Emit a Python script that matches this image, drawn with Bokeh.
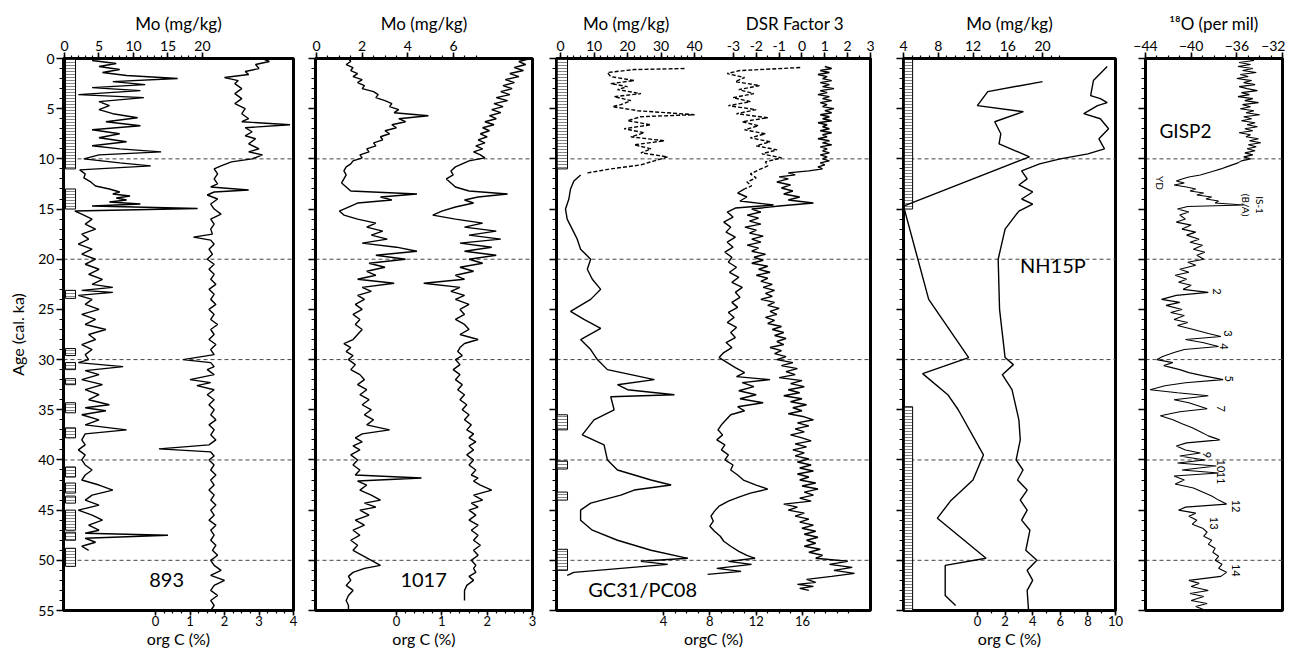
from bokeh.plotting import figure
from bokeh.models import Range1d, LinearAxis, FixedTicker, Span, ColumnDataSource
from bokeh.layouts import row
from bokeh.embed import file_html
from bokeh.resources import INLINE
from bokeh.core.properties import value
import math

FONT = "Lato"
FH = 552
TOP = 58
BOT = 40

# ---------------- DATA ----------------
# Core 893 (Santa Barbara)
age_893_mo = [0.2,0.5,0.8,1.1,1.4,1.7,2.0,2.3,2.6,2.9,3.2,3.6,3.9,4.3,4.7,5.1,5.5,5.9,6.3,6.7,7.1,7.5,7.9,8.3,8.7,9.0,9.3,9.6,10.0,10.4,10.7,11.1,11.5,11.9,12.3,12.7,13.0,13.3,13.5,13.7,13.9,14.1,14.3,14.5,14.7,14.95,15.2,15.5,16.0,16.5,17.0,17.5,18.0,18.5,19.0,19.5,20.0,20.5,21.0,21.5,22.0,22.5,22.8,23.1,23.3,23.6,24.0,24.5,25.0,25.5,26.0,26.5,27.0,27.5,28.0,28.5,29.0,29.5,30.0,30.3,30.7,31.1,31.5,32.0,32.5,33.0,33.5,34.0,34.5,34.8,35.1,35.5,36.0,36.5,37.0,37.4,38.0,38.5,39.0,39.5,40.0,40.5,41.0,41.5,42.0,42.5,43.0,43.5,44.0,44.5,45.0,45.5,46.0,46.5,47.0,47.3,47.5,47.8,48.2,48.6,49.0]
mo_893 = [4,7.5,5,8,5.5,9,16.4,7,11.7,4,11,2,11.5,5,6.5,5,7,10.6,6,11,4,8,5,9,4,8,14,5,2.8,8,12.5,2.2,3.0,2.8,3.8,4.5,6.5,8.0,7.0,9.5,7.5,9.0,6.5,11,4.0,19.3,1.5,2.5,4,3,4.5,2.5,3.5,2,4,2.5,4.5,3,5,3.5,5.5,4,7,2.5,7,2,4,3,5,2.5,4.5,3,6,3.5,4.5,2.5,4,3,3.5,2,8.5,3,5,2.5,5.5,3,5,3.5,6.5,3,6,2.5,5,3,9,3,2.5,3,2,3,2.5,3,4,3,2.5,5,7,4,3,5,2,4,5.5,3.5,5,3,15,3,4.5,2.5,3.5]

age_893_c = [0,0.3,0.6,1.0,1.3,1.6,1.9,2.2,2.5,3.0,3.5,4.0,4.5,5.0,5.5,6.0,6.3,6.6,6.9,7.3,7.7,8.0,8.5,9.0,9.3,9.6,10.0,10.3,10.7,11.0,11.5,12.0,12.5,12.8,13.1,13.3,13.6,14.0,14.5,15.0,15.5,16.0,16.5,17.0,17.5,17.8,18.1,18.5,19.0,19.5,20.0,20.5,21.0,21.5,22.0,22.5,23.0,23.5,24.0,24.5,25.0,25.5,26.0,26.5,27.0,27.5,28.0,28.5,29.0,29.5,30.0,30.3,30.7,31.0,31.5,32.0,32.3,32.6,33.0,33.5,34.0,34.5,35.0,35.5,36.0,36.5,37.0,37.5,38.0,38.5,38.9,39.2,39.6,40.0,40.5,41.0,41.5,42.0,42.5,43.0,43.5,44.0,44.5,45.0,45.5,46.0,46.5,47.0,47.5,48.0,48.5,49.0,49.5,50.0,50.5,51.0,51.5,52.0,52.5,53.0,53.5,54.0,54.5,55.0]
c_893 = [3.1,3.3,2.9,3.0,2.6,2.7,2.0,2.4,2.3,2.5,2.3,2.5,2.3,2.6,2.5,2.7,2.5,3.9,2.6,2.8,2.6,2.9,2.7,3.0,2.7,3.1,2.8,2.2,1.9,1.7,1.8,1.7,1.8,1.6,2.7,1.7,1.5,1.8,1.6,1.7,1.9,1.6,1.7,1.6,1.65,1.1,1.6,1.7,1.55,1.65,1.5,1.7,1.55,1.7,1.6,1.75,1.55,1.7,1.6,1.75,1.55,1.7,1.6,1.8,1.6,1.7,1.55,1.75,1.6,1.7,0.8,1.6,1.7,1.5,1.7,1.0,1.6,1.2,1.7,1.5,1.7,1.55,1.7,1.6,1.75,1.55,1.7,1.6,1.75,1.55,0.1,1.6,1.7,1.55,1.7,1.6,1.75,1.6,1.7,1.55,1.7,1.6,1.75,1.6,1.7,1.55,1.75,1.6,1.7,1.6,1.75,1.65,1.8,1.6,1.7,1.9,1.6,2.0,1.7,1.6,1.8,1.6,1.7,1.6]

lith_893_top = [0,13.0,23.1,28.9,30.3,31.9,34.3,36.8,40.7,42.3,43.6,45.0,47.2,48.8]
lith_893_bot = [11.0,15.0,23.9,29.6,31.0,32.5,35.3,37.8,41.7,43.3,44.3,47.0,48.0,50.6]

# Core 1017
age_1017 = [0.0,0.3,0.6,0.9,1.2,1.5,1.8,2.1,2.4,2.7,3.0,3.3,3.6,3.9,4.2,4.5,4.8,5.1,5.4,5.7,6.0,6.3,6.6,6.9,7.2,7.5,7.8,8.1,8.4,8.7,9.0,9.3,9.6,9.9,10.2,10.5,10.8,11.2,11.6,12.0,12.4,12.8,13.2,13.5,13.8,14.1,14.4,14.8,15.2,15.6,16.0,16.4,16.8,17.2,17.6,18.0,18.4,18.8,19.2,19.6,20.0,20.4,20.8,21.2,21.6,22.0,22.4,22.8,23.2,23.6,24.0,24.5,25.0,25.5,26.0,26.5,27.0,27.5,28.0,28.4,28.8,29.2,29.6,30.0,30.5,31.0,31.5,32.0,32.5,33.0,33.5,34.0,34.5,35.0,35.5,36.0,36.5,37.0,37.4,37.8,38.2,38.6,39.0,39.5,40.0,40.5,41.0,41.5,41.8,42.1,42.5,43.0,43.5,44.0,44.3,44.7,45.0,45.5,46.0,46.5,47.0,47.5,48.0,48.5,49.0,49.5,50.0,50.5,50.8,51.2,51.6,52.0,52.5,53.0,53.5,54.0,54.5,55.0]
mo_1017 = [1.4,1.5,1.3,1.6,1.5,1.8,1.6,2.0,1.8,2.1,2.0,2.5,2.7,2.6,3.0,3.3,3.2,3.6,3.4,4.9,3.6,3.9,3.3,3.5,3.0,3.2,2.8,2.9,2.5,2.6,2.2,2.3,1.9,2.0,1.6,1.5,1.3,1.2,1.3,1.2,1.1,1.3,1.5,4.4,2.8,3.3,1.8,1.4,1.0,1.2,1.8,2.6,2.2,2.9,2.4,3.1,2.0,3.5,4.4,2.6,3.9,2.3,3.0,2.2,2.6,1.8,3.4,2.0,2.4,1.8,2.1,1.7,2.0,1.6,1.9,1.7,2.0,1.8,1.6,1.2,1.5,1.3,1.6,1.4,1.7,1.5,1.9,2.1,1.8,2.2,1.9,2.3,2.0,2.4,2.1,2.5,2.2,3.2,2.0,1.7,2.0,1.6,1.9,1.5,1.8,1.6,1.9,1.7,4.6,1.8,2.2,1.9,2.4,2.8,2.1,2.6,1.9,2.3,1.7,2.1,1.6,1.9,1.5,1.8,1.6,2.0,2.4,2.8,2.1,1.6,1.4,1.5,1.3,1.6,1.4,1.3,1.4,1.4]
c_1017 = [2.95,2.7,2.85,2.6,2.8,2.5,2.7,2.4,2.6,2.35,2.55,2.3,2.5,2.2,2.45,2.15,2.35,2.1,2.3,2.05,2.2,1.95,2.15,1.9,2.05,1.85,2.0,1.8,1.95,1.75,1.9,1.7,1.85,1.95,1.6,1.45,1.3,1.2,1.25,1.1,1.2,1.3,1.6,2.45,1.8,1.5,1.7,1.3,1.0,0.8,1.3,1.9,1.5,2.2,1.6,2.3,1.4,2.1,1.5,2.2,1.6,1.9,1.4,1.7,1.3,1.5,0.6,1.4,1.2,1.5,1.3,1.6,1.4,1.5,1.3,1.5,1.6,1.4,1.8,1.5,1.4,1.35,1.45,1.3,1.4,1.25,1.4,1.3,1.45,1.35,1.5,1.4,1.55,1.45,1.6,1.5,1.65,1.55,1.7,1.6,1.75,1.6,1.7,1.55,1.7,1.6,1.75,1.65,1.8,1.7,1.85,2.1,1.7,1.9,1.65,1.8,1.6,1.75,1.6,1.8,1.65,1.8,1.7,1.85,1.7,1.8,1.65,1.75,1.7,1.75,1.6,1.7,1.55,1.5,1.5,1.5]

# GC31/PC08
age_gc31_mo = [1.0,1.1,1.4,1.8,2.2,2.5,2.8,3.1,3.5,3.8,4.2,4.6,4.8,5.2,5.6,5.8,6.2,6.6,7.0,7.4,7.8,8.2,8.6,9.0,9.4,9.8,10.2,10.6,11.0,11.4]
mo_gc31 = [37,22,14,15,22,15,20,17,24,16,21,18,15.5,23,40,24,20,27,19,25,21,31,22,27,24,32,28,24,15,8]
age_pc08_mo = [11.6,12.2,13.0,14.0,15.0,16.0,17.0,18.0,19.0,20.0,21.0,22.0,23.0,24.0,25.2,26.0,26.9,28.0,29.0,30.0,31.0,32.0,32.5,33.0,33.5,33.7,35.0,36.0,37.5,38.5,40.0,41.0,42.0,42.5,43.0,43.5,44.3,45.0,46.0,47.0,48.0,49.0,49.8,50.1,50.4,51.2,51.5]
mo_pc08 = [6,4,3,2.5,1.5,2,3.5,5,6,9,8,9.5,12,9,3,7,12,6,9,11,14,28,17,20,34,15,16,10,6.5,13,14,17,27,33,22,18,9,6,6,9.5,17,27,38,24,32,4,2]

age_gc31_c = [0.9,1.2,1.5,1.9,2.3,2.7,3.1,3.5,3.9,4.3,4.7,5.1,5.5,5.9,6.3,6.7,7.1,7.5,7.9,8.3,8.7,9.1,9.5,9.9,10.3,10.7,11.1,11.5,11.9,12.3,12.7,13.0]
c_gc31 = [15.8,10.6,9.5,11.0,10.2,12.3,10.5,11.8,10.0,11.5,9.6,12.0,10.3,13.0,10.8,12.2,11.0,12.8,11.5,13.2,12.0,13.8,12.5,14.2,12.8,13.0,12.2,11.5,12.0,11.2,11.6,11.0]
age_pc08_c = [13.0,13.4,13.8,14.2,14.6,14.9,15.3,15.8,16.3,16.8,17.3,17.8,18.3,18.8,19.3,19.8,20.3,20.8,21.3,21.8,22.3,22.8,23.3,23.8,24.3,24.8,25.3,25.8,26.3,26.8,27.3,27.8,28.3,28.8,29.3,29.8,30.3,30.8,31.3,31.7,32.0,32.3,32.7,33.1,33.5,33.9,34.3,34.7,35.1,35.5,36.0,36.5,37.0,37.5,38.0,38.5,39.0,39.5,40.0,40.5,41.0,41.5,42.0,42.5,42.9,43.3,43.7,44.1,44.6,45.1,45.6,46.1,46.6,47.1,47.6,48.1,48.6,49.1,49.5,49.8,50.1,50.4,50.8,51.1,51.4]
c_pc08 = [11.0,10.4,11.2,10.6,13.5,10.2,9.5,10.0,9.2,9.8,9.4,10.2,9.5,10.0,9.3,9.9,9.6,10.3,9.7,10.5,9.9,10.8,10.2,10.6,9.9,10.4,9.6,10.1,9.5,10.3,9.8,10.2,9.4,9.9,9.2,8.8,9.5,10.2,11.0,10.3,13.2,10.8,11.8,10.5,12.0,10.6,12.6,10.4,11.0,9.8,9.4,9.0,8.7,9.1,8.6,9.3,9.0,9.6,9.3,10.0,9.8,10.4,10.9,12.0,13.0,11.5,10.5,9.6,8.8,8.4,8.1,8.3,8.0,8.4,8.9,9.2,9.8,10.5,11.2,11.9,9.6,11.6,8.6,10.7,7.8]

age_dsr = [0.8,1.0,1.2,1.4,1.6,1.8,2.0,2.2,2.4,2.6,
           2.8,3.0,3.2,3.4,3.6,3.8,4.0,4.2,4.4,4.6,
           4.8,5.0,5.2,5.4,5.6,5.8,6.0,6.2,6.4,6.6,
           6.8,7.0,7.2,7.4,7.6,7.8,8.0,8.2,8.4,8.6,
           8.8,9.0,9.2,9.4,9.6,9.8,10.0,10.2,10.4,10.6,
           10.8,11.0,11.2,11.4,11.6,11.8,12.0,12.3,12.6,12.9,
           13.2,13.5,13.8,14.1,14.4,14.7,15.0,15.3,15.6,15.9,
           16.2,16.5,16.8,17.1,17.4,17.7,18.0,18.3,18.6,18.9,
           19.2,19.5,19.8,20.1,20.4,20.7,21.0,21.3,21.6,21.9,
           22.2,22.5,22.8,23.1,23.4,23.7,24.0,24.3,24.6,24.9,
           25.2,25.5,25.8,26.1,26.4,26.7,27.0,27.3,27.6,27.9,
           28.2,28.5,28.8,29.1,29.4,29.7,30.0,30.3,30.6,30.9,
           31.2,31.5,31.8,32.1,32.4,32.7,33.0,33.3,33.6,33.9,
           34.2,34.5,34.8,35.1,35.4,35.7,36.0,36.3,36.6,36.9,
           37.2,37.5,37.8,38.1,38.4,38.7,39.0,39.3,39.6,39.9,
           40.2,40.5,40.8,41.1,41.4,41.7,42.0,42.3,42.6,42.9,
           43.2,43.5,43.8,44.1,44.4,44.7,45.0,45.3,45.6,45.9,
           46.2,46.5,46.8,47.1,47.4,47.7,48.0,48.3,48.6,48.9,
           49.2,49.5,49.8,50.1,50.4,50.7,51.0,51.3,51.6,51.9,
           52.2,52.4,52.6,52.8,53.0]
dsr = [1.0,1.3,0.8,1.2,0.7,1.1,0.9,1.3,0.8,1.2,
       0.9,1.4,0.8,1.1,0.7,1.2,0.9,1.3,0.8,1.1,
       0.9,1.4,1.0,1.3,0.8,1.2,0.9,1.3,0.7,1.1,
       0.9,1.2,0.8,1.3,0.9,1.1,0.7,1.2,0.9,1.3,
       0.8,1.1,0.9,1.2,0.8,1.1,0.9,1.2,0.8,1.0,
       0.7,0.9,0.3,-0.6,-0.3,-1.0,-0.6,-1.1,-0.5,-0.9,
       -0.4,-0.8,-0.1,-0.6,0.5,-1.0,-2.2,-1.8,-2.4,-1.9,
       -2.3,-1.8,-2.5,-2.0,-2.3,-1.7,-2.2,-1.8,-2.4,-1.9,
       -2.2,-1.6,-2.1,-1.7,-2.2,-1.5,-1.9,-1.4,-2.0,-1.5,
       -1.8,-1.3,-1.7,-1.2,-1.6,-1.3,-1.8,-1.2,-1.5,-1.0,
       -1.4,-1.1,-1.6,-1.2,-1.5,-0.9,-1.3,-0.8,-1.2,-0.7,
       -1.1,-0.8,-1.4,-0.9,-1.2,-0.7,-1.1,-0.4,-0.9,-0.2,
       -0.7,-0.3,-1.0,0.0,-0.5,0.1,-0.6,-0.1,-0.8,0.0,
       -0.5,0.2,-0.4,0.0,-0.6,0.1,0.5,-0.2,0.3,-0.3,
       0.1,-0.5,0.0,0.4,-0.3,0.2,-0.4,0.1,-0.3,0.3,
       -0.2,0.4,-0.1,0.5,-0.2,0.3,-0.1,0.6,0.0,0.7,
       0.1,0.5,-0.1,0.4,-0.8,-0.2,-0.6,0.1,-0.3,0.3,
       -0.1,0.5,0.0,0.6,0.1,0.7,0.2,0.6,0.1,0.8,
       0.3,0.9,0.6,2.0,1.2,2.2,1.4,2.3,1.3,0.2,
       0.6,-0.2,0.5,-0.1,0.3]

lith_gc_top = [0,35.5,40.1,43.2,48.9]
lith_gc_bot = [11.0,37.0,40.9,44.0,51.0]

# NH15P
age_nh_mo = [2.3,3.3,4.7,5.3,6.3,7.5,8.5,9.8,14.7,24.0,29.8,31.4,33.5,35.0,39.5,42.0,44.1,45.8,49.8,50.5,53.5,54.5]
mo_nh = [20.0,13.7,12.5,17.8,14.5,15.2,15.0,18.5,4.0,6.9,11.5,6.2,9.1,10.3,13.2,12.0,9.4,7.9,13.5,8.8,8.8,10.0]
age_nh_c = [0.8,2.2,3.7,4.0,4.4,4.7,5.5,6.0,7.0,8.0,9.0,9.5,10.0,10.5,11.2,12.0,12.6,13.3,14.0,14.5,15.2,17.0,20.0,25.0,29.8,30.5,31.5,33.0,36.0,38.0,40.0,41.0,42.0,43.0,44.0,45.0,46.0,47.0,49.0,50.0,51.0,52.0,53.0,55.0]
c_nh = [9.4,8.4,8.2,8.9,9.4,8.7,7.7,8.9,9.5,8.8,9.2,8.0,6.0,4.5,3.2,3.6,3.0,4.0,3.2,4.0,3.0,2.0,1.5,1.6,2.0,2.6,1.8,2.5,3.0,3.1,2.8,3.3,2.9,3.6,3.1,3.6,3.2,3.8,3.5,4.3,3.6,4.0,3.6,3.7]
lith_nh_top = [0,34.7]
lith_nh_bot = [15.0,55.0]

# GISP2 d18O
age_gisp = [0.0,0.2,0.4,0.6,0.8,1.0,1.2,1.4,1.6,1.8,2.0,2.2,2.4,2.6,2.8,3.0,3.2,3.4,3.6,3.8,4.0,4.2,4.4,4.6,4.8,5.0,5.2,5.4,5.6,5.8,6.0,6.2,6.4,6.6,6.8,7.0,7.2,7.4,7.6,7.8,8.0,8.2,8.4,8.6,8.8,9.0,9.2,9.4,9.6,9.8,10.0,10.2,10.4,10.6,10.8,11.0,11.2,11.4,11.6,11.8,12.0,12.2,12.4,12.6,12.8,13.0,13.2,13.4,13.6,13.8,14.0,14.2,14.4,14.6,14.75,15.0,15.3,15.6,16.0,16.3,16.6,17.0,17.3,17.6,18.0,18.3,18.6,19.0,19.3,19.6,20.0,20.3,20.6,21.0,21.3,21.6,22.0,22.3,22.6,23.0,23.3,23.6,24.0,24.3,24.6,25.0,25.3,25.6,26.0,26.3,26.6,27.0,27.4,27.7,28.0,28.3,28.7,29.0,29.3,29.7,30.0,30.3,30.6,31.0,31.3,31.6,32.0,32.3,32.6,33.0,33.3,33.6,34.0,34.3,34.6,34.9,35.2,35.6,36.0,36.4,36.8,37.2,37.6,38.0,38.3,38.6,39.0,39.3,39.6,40.0,40.3,40.6,41.0,41.3,41.6,42.0,42.4,42.8,43.2,43.6,44.0,44.4,44.7,45.0,45.3,45.6,46.0,46.4,46.8,47.2,47.6,48.0,48.4,48.8,49.2,49.6,50.0,50.4,50.8,51.2,51.6,52.0,52.3,52.6,53.0,53.3,53.6,54.0,54.3,54.6,55.0]
d18o = [-35.2,-34.5,-35.8,-34.8,-35.9,-34.6,-35.5,-34.3,-35.7,-35.0,-36.0,-34.7,-35.4,-34.4,-35.8,-35.1,-34.2,-35.6,-34.9,-35.9,-34.6,-35.3,-34.1,-35.5,-34.8,-35.7,-34.5,-35.2,-34.0,-35.4,-34.7,-35.6,-34.4,-35.1,-34.2,-35.3,-34.6,-35.8,-34.8,-35.2,-34.1,-34.9,-33.9,-35.0,-34.3,-35.1,-34.4,-35.3,-34.6,-35.4,-34.8,-35.6,-35.9,-36.4,-36.9,-37.4,-38.0,-38.6,-39.2,-40.2,-40.8,-41.3,-40.6,-41.5,-40.4,-39.6,-40.1,-38.9,-39.5,-38.2,-38.7,-37.6,-37.9,-35.4,-40.3,-41.2,-40.2,-41.0,-40.5,-41.3,-40.0,-40.8,-39.6,-40.4,-39.3,-40.1,-39.0,-39.8,-38.8,-39.5,-38.9,-40.3,-39.6,-41.0,-40.2,-41.4,-40.4,-41.1,-40.0,-40.7,-38.5,-41.3,-42.6,-41.0,-42.2,-40.8,-41.8,-40.6,-41.5,-40.3,-41.2,-39.8,-38.5,-37.4,-40.5,-39.0,-37.6,-40.6,-41.5,-42.5,-43.0,-41.6,-42.4,-41.0,-40.2,-39.0,-37.2,-40.5,-42.3,-43.6,-41.2,-38.5,-41.5,-40.2,-39.4,-38.6,-41.0,-42.7,-41.6,-40.8,-39.9,-39.2,-38.5,-37.5,-40.4,-41.3,-40.5,-39.2,-41.0,-38.8,-41.2,-37.8,-40.8,-37.6,-41.5,-40.6,-41.4,-39.8,-39.0,-38.2,-37.6,-36.9,-40.5,-41.1,-39.6,-40.2,-39.5,-39.9,-39.0,-38.6,-38.9,-38.2,-38.5,-37.9,-38.1,-37.6,-37.9,-37.3,-37.6,-36.9,-37.4,-40.2,-39.3,-40.0,-38.5,-40.1,-38.9,-40.0,-38.6,-39.6,-38.7]

is_labels = ["2","3","4","5","7","9","10","11","12","13","14"]
is_d18o = [-37.7,-36.8,-37.1,-36.7,-37.4,-38.6,-37.4,-37.4,-36.1,-38.0,-36.1]
is_age = [23.2,27.4,28.7,31.9,34.9,39.5,40.6,41.8,44.6,46.3,51.0]

AGE_MAJOR = list(range(0, 56, 5))
AGE_MINOR = list(range(0, 56))
DASH_AGES = [10, 20, 30, 40, 50]

# ---------------- helpers ----------------
def base_fig(fw, xr, bl, br):
    p = figure(frame_width=fw, frame_height=FH, x_range=Range1d(*xr), y_range=Range1d(55, 0),
               x_axis_location=None, y_axis_location=None, toolbar_location=None,
               output_backend="svg", min_border_left=bl, min_border_right=br,
               min_border_top=TOP, min_border_bottom=BOT)
    p.outline_line_color = "black"
    p.outline_line_width = 3
    p.outline_line_alpha = 1.0
    p.background_fill_color = "white"
    p.border_fill_color = "white"
    p.grid.visible = False
    for a in DASH_AGES:
        p.add_layout(Span(location=a, dimension="width", line_color="#444444",
                          line_width=1, line_dash="4 3", level="underlay"))
    return p

def style_axis(ax, out=7, mout=4, lsize="14px"):
    ax.major_tick_in = 0
    ax.major_tick_out = out
    ax.minor_tick_in = 0
    ax.minor_tick_out = mout
    ax.axis_line_width = 2.5
    ax.major_tick_line_width = 1.6
    ax.minor_tick_line_width = 1.2
    ax.major_label_text_font = FONT
    ax.major_label_text_font_size = lsize
    ax.major_label_text_color = "black"
    ax.axis_label_text_font = FONT
    ax.axis_label_text_font_style = "normal"
    ax.axis_label_text_font_size = "17px"
    ax.axis_label_text_color = "black"
    ax.major_label_standoff = 2
    ax.axis_label_standoff = 4

def add_age_axis(p, labels):
    ax = LinearAxis(ticker=FixedTicker(ticks=AGE_MAJOR, minor_ticks=AGE_MINOR))
    style_axis(ax)
    if labels:
        ax.axis_label = "Age (cal. ka)"
        ax.axis_label_standoff = 8
        ax.axis_label_text_font_size = "16px"
    else:
        ax.major_label_overrides = {t: "" for t in AGE_MAJOR}
    p.add_layout(ax, "left")

def add_x_axis(p, side, major, minor, bounds, label, rng="default", out=6, mout=3, lsize="14px"):
    ax = LinearAxis(x_range_name=rng, bounds=bounds,
                    ticker=FixedTicker(ticks=major, minor_ticks=minor))
    style_axis(ax, out=out, mout=mout, lsize=lsize)
    if label:
        ax.axis_label = label
    if side == "below":
        ax.major_tick_out = 5
        ax.major_label_standoff = 0
        ax.axis_label_standoff = 0
        ax.axis_label_text_font_size = "16px"
    p.add_layout(ax, side)
    return ax

def steps(a, b, s):
    n = int(round((b - a) / s))
    return [round(a + i * s, 4) for i in range(n + 1)]

def lith(p, tops, bots, l, r):
    src = ColumnDataSource(dict(top=tops, bottom=bots))
    p.quad(left=l, right=r, top="top", bottom="bottom", source=src, fill_color="white",
           line_color="black", line_width=1, hatch_pattern="horizontal_line",
           hatch_color="#666666", hatch_scale=3, hatch_weight=0.8)

def txt(p, x, y, s, size, rng="default", angle=0.0):
    p.text(x=[x], y=[y], text=[s], x_range_name=rng, angle=angle,
           text_font=value(FONT), text_font_size=value(size), text_color="black",
           text_align="center", text_baseline="middle")

LW = 1.4

# ---------------- Panel 1: 893 ----------------
p1 = base_fig(230, (-0.145, 33.19), 63, 8)
p1.extra_x_ranges = {"c": Range1d(-2.667, 4.0)}
add_age_axis(p1, True)
add_x_axis(p1, "above", [0, 5, 10, 15, 20], list(range(0, 21)), (0, 20), "Mo (mg/kg)")
add_x_axis(p1, "below", [0, 1, 2, 3, 4], steps(0, 4, 0.25), (0, 4), "org C (%)", rng="c", lsize="13px")
lith(p1, lith_893_top, lith_893_bot, 0.15, 1.6)
p1.line(mo_893, age_893_mo, line_color="black", line_width=LW)
p1.line(c_893, age_893_c, line_color="black", line_width=LW, x_range_name="c")
txt(p1, 14.8, 52.0, "893", "20px")

# ---------------- Panel 2: 1017 ----------------
p2 = base_fig(217, (-0.044, 9.46), 14, 8)
p2.extra_x_ranges = {"c": Range1d(-1.787, 3.0)}
add_age_axis(p2, False)
add_x_axis(p2, "above", [0, 2, 4, 6], steps(0, 7, 0.5), (0, 7), "Mo (mg/kg)")
add_x_axis(p2, "below", [0, 1, 2, 3], steps(0, 3, 0.2), (0, 3), "org C (%)", rng="c", lsize="13px")
p2.line(mo_1017, age_1017, line_color="black", line_width=LW)
p2.line(c_1017, age_1017, line_color="black", line_width=LW, x_range_name="c")
txt(p2, 4.69, 52.0, "1017", "20px")

# ---------------- Panel 3: GC31/PC08 ----------------
MO3 = (-1.19, 92.5)
DSR3 = (-10.75, 3.0)
p3 = base_fig(314, MO3, 16, 8)
p3.extra_x_ranges = {"c": Range1d(-5.24, 21.87), "dsr": Range1d(*DSR3)}
add_age_axis(p3, False)

def dsr_to_mo(d):
    return MO3[0] + (d - DSR3[0]) / (DSR3[1] - DSR3[0]) * (MO3[1] - MO3[0])

mo_major3 = [0, 10, 20, 30, 40]
dsr_major3 = [-3, -2, -1, 0, 1, 2, 3]
top3_major = mo_major3 + [dsr_to_mo(d) for d in dsr_major3]
top3_minor = steps(0, 42, 2) + [dsr_to_mo(d) for d in steps(-3, 3, 0.5)]
title3 = "Mo (mg/kg)" + "\u2003" * 6 + "DSR Factor 3"
ax3 = add_x_axis(p3, "above", top3_major, top3_minor, "auto", title3)
ax3.major_label_overrides = {dsr_to_mo(d): str(d) for d in dsr_major3}
add_x_axis(p3, "below", [4, 8, 12, 16], steps(4, 20, 1), (4, 17), "orgC (%)", rng="c", lsize="13px")
lith(p3, lith_gc_top, lith_gc_bot, -1.19, 2.1)
p3.line(mo_gc31, age_gc31_mo, line_color="black", line_width=LW, line_dash="4 2")
p3.line(mo_pc08, age_pc08_mo, line_color="black", line_width=LW)
p3.line(c_gc31, age_gc31_c, line_color="black", line_width=LW, line_dash="4 2", x_range_name="c")
p3.line(c_pc08, age_pc08_c, line_color="black", line_width=LW, x_range_name="c")
p3.line(dsr, age_dsr, line_color="black", line_width=LW, x_range_name="dsr")
txt(p3, 24.5, 52.9, "GC31/PC08", "20px")

# ---------------- Panel 4: NH15P ----------------
p4 = base_fig(212, (4.0, 28.4), 25, 8)
p4.extra_x_ranges = {"c": Range1d(-5.36, 10.0)}
add_age_axis(p4, False)
add_x_axis(p4, "above", [4, 8, 12, 16, 20], list(range(4, 23)), (4, 21), "Mo (mg/kg)")
add_x_axis(p4, "below", [0, 2, 4, 6, 8, 10], list(range(0, 11)), (0, 10), "org C (%)", rng="c", lsize="13px")
lith(p4, lith_nh_top, lith_nh_bot, 4.05, 5.05)
p4.line(mo_nh, age_nh_mo, line_color="black", line_width=LW)
p4.line(c_nh, age_nh_c, line_color="black", line_width=LW, x_range_name="c")
txt(p4, 21.2, 20.6, "NH15P", "20px")

# ---------------- Panel 5: GISP2 ----------------
p5 = base_fig(137, (-44.0, -32.0), 22, 3)
add_age_axis(p5, False)
add_x_axis(p5, "above", [-44, -40, -36, -32], list(range(-44, -31)), (-44, -32), "\u00b9\u2078O (per mil)")
p5.line(d18o, age_gisp, line_color="black", line_width=1.1)
txt(p5, -40.5, 7.2, "GISP2", "19px")
rot = -math.pi / 2
txt(p5, -42.7, 12.4, "YD", "10px", angle=rot)
txt(p5, -34.6, 14.6, "IS-1\n(B/A)", "10px", angle=rot)
p5.text(x=is_d18o, y=is_age, text=is_labels, angle=rot, text_font=value(FONT),
        text_font_size=value("11px"), text_color="black", text_align="center",
        text_baseline="middle")

layout = row(p1, p2, p3, p4, p5, spacing=0)
open("out.html", "w").write(file_html(layout, INLINE))
